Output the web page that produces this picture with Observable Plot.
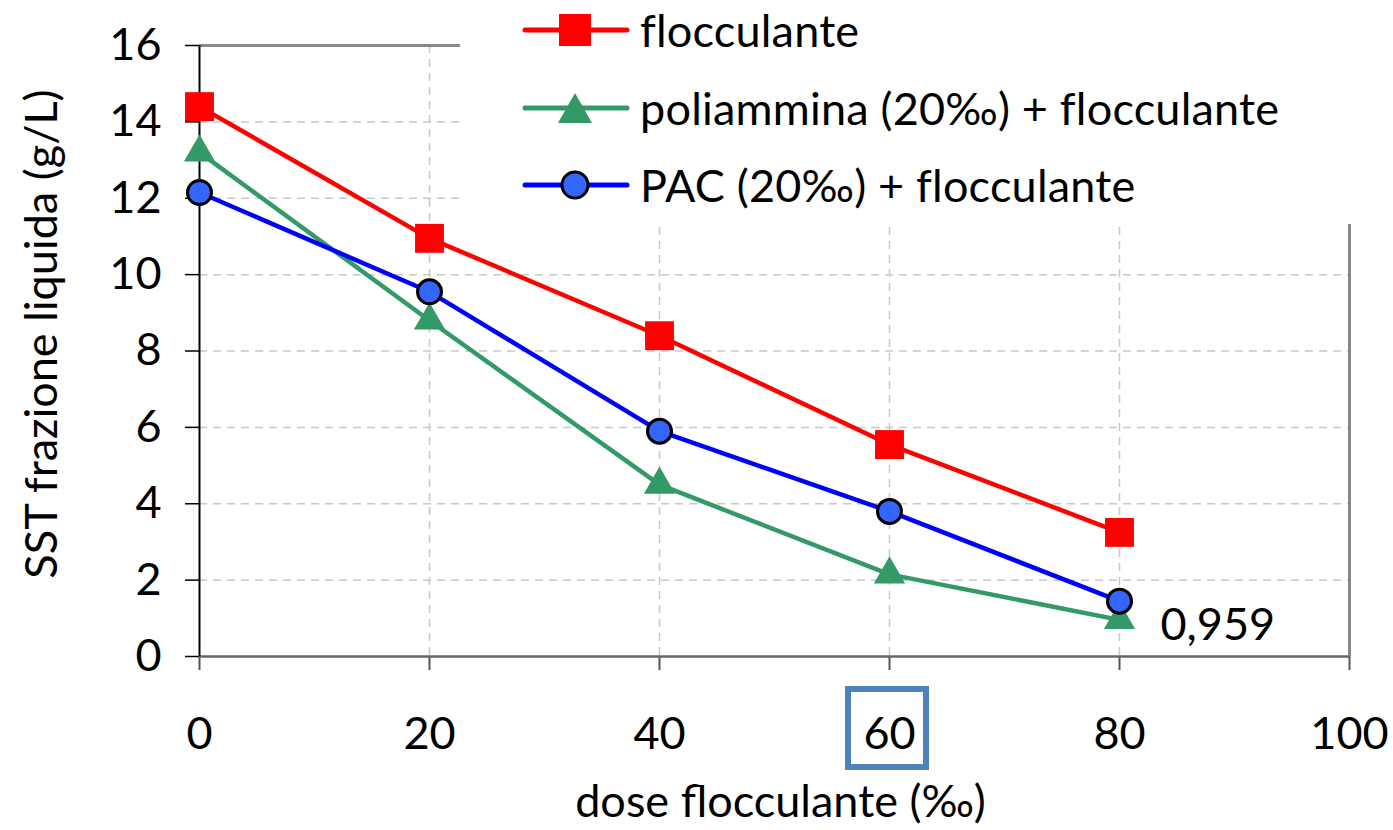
<!DOCTYPE html>
<html><head><meta charset="utf-8">
<script src="https://cdn.jsdelivr.net/npm/d3@7"></script>
<script src="https://cdn.jsdelivr.net/npm/@observablehq/plot@0.6"></script>
<style>
body{margin:0;background:#fff;font-family:Lato,sans-serif}
#wrap{position:relative;width:1393px;height:830px;overflow:hidden}
#legend{position:absolute;left:460px;top:0;width:933px;height:224px;background:#fff}
.item{position:absolute;left:60px;height:50px;display:flex;align-items:center;font-size:45px;color:#000;white-space:nowrap;letter-spacing:0.2px}
.item svg{margin-right:8px}
#box{position:absolute;left:845px;top:686px;width:72px;height:72px;border:6px solid #4F81BD}
</style></head><body><div id="wrap"></div>
<script>
const doses = [0, 20, 40, 60, 80];
const flocculante = [14.4, 10.95, 8.4, 5.55, 3.25];
const poliammina = [13.2, 8.8, 4.5, 2.15, 0.959];
const pac = [12.15, 9.55, 5.9, 3.8, 1.45];
const seriesNames = ["flocculante", "poliammina (20‰) + flocculante", "PAC (20‰) + flocculante"];
const xTicks = [0, 20, 40, 60, 80, 100];
const yTicks = [0, 2, 4, 6, 8, 10, 12, 14, 16];
const xLabel = "dose flocculante (‰)";
const yLabel = "SST frazione liquida (g/L)";
const annotation = "0,959";

const lineColors = ["#FF0000", "#339966", "#0000FF"];
const fillColors = ["#FF0000", "#339966", "#3366FF"];
const symbols = ["square", "triangle", "circle"];
const radii = [16.3, 11.6, 12];
const valueSets = [flocculante, poliammina, pac];

const rows = valueSets.map((vals, s) => doses.map((d, i) => ({dose: d, value: vals[i], series: seriesNames[s]})));

const marks = [
  Plot.ruleX(xTicks.filter(t => t > 0 && t < 100), {stroke: "#c8c8c8", strokeWidth: 1.5, strokeDasharray: "8,6"}),
  Plot.ruleY(yTicks.filter(t => t > 0 && t < 16), {stroke: "#c8c8c8", strokeWidth: 1.5, strokeDasharray: "8,6"}),
  Plot.ruleY([16], {stroke: "#888", strokeWidth: 3}),
  Plot.ruleX([100], {stroke: "#888", strokeWidth: 3}),
  Plot.axisX(xTicks, {tickSize: 14, tickPadding: 47, fontSize: 45, stroke: "#555", strokeWidth: 2, label: null, fill: "#000"}),
  Plot.axisY(yTicks, {tickSize: 14, tickPadding: 24, fontSize: 45, stroke: "#000", strokeWidth: 1.5, label: null, fill: "#000"}),
  Plot.ruleY([0], {stroke: "#666", strokeWidth: 2.5}),
  Plot.ruleX([0], {stroke: "#000", strokeWidth: 2}),
  Plot.text([yLabel], {frameAnchor: "left", textAnchor: "middle", lineAnchor: "middle", rotate: -90, dx: -157, dy: -17, fontSize: 45, fill: "#000"}),
  Plot.text([xLabel], {frameAnchor: "bottom", textAnchor: "middle", lineAnchor: "middle", dx: 6, dy: 146, fontSize: 45, fill: "#000"})
];
rows.forEach((r, s) => {
  marks.push(Plot.line(r, {x: "dose", y: "value", stroke: lineColors[s], strokeWidth: 4.5}));
});
rows.forEach((r, s) => {
  marks.push(Plot.dot(r, {x: "dose", y: "value", symbol: () => symbols[s], r: radii[s], fill: fillColors[s],
    stroke: s === 2 ? "#000" : "none", strokeWidth: 3}));
});
marks.push(Plot.text([rows[1][4]], {x: "dose", y: "value", text: () => annotation, dx: 41, dy: 6, textAnchor: "start", fontSize: 45, fill: "#000"}));

const chart = Plot.plot({
  width: 1393, height: 830,
  marginLeft: 199, marginRight: 44, marginTop: 45, marginBottom: 174,
  x: {domain: [0, 100]},
  y: {domain: [0, 16]},
  style: {fontFamily: "Lato, sans-serif", background: "#fff", overflow: "visible"},
  marks
});
const wrap = document.getElementById("wrap");
wrap.appendChild(chart);

const legend = document.createElement("div");
legend.id = "legend";
const rowsY = [30, 108, 185];
seriesNames.forEach((name, s) => {
  const it = document.createElement("div");
  it.className = "item";
  it.style.top = (rowsY[s] - 25) + "px";
  let sym = "";
  if (s === 0) sym = `<rect x="39" y="9" width="32" height="32" fill="${fillColors[0]}"/>`;
  if (s === 1) sym = `<path d="M55,10 L72,40 L38,40 Z" fill="${fillColors[1]}"/>`;
  if (s === 2) sym = `<circle cx="55" cy="25" r="13" fill="${fillColors[2]}" stroke="#000" stroke-width="3"/>`;
  it.innerHTML = `<svg width="112" height="50"><line x1="5" x2="107" y1="25" y2="25" stroke="${lineColors[s]}" stroke-width="5" stroke-linecap="round"/>${sym}</svg><span>${name}</span>`;
  legend.appendChild(it);
});
wrap.appendChild(legend);
const box = document.createElement("div");
box.id = "box";
wrap.appendChild(box);
</script></body></html>
